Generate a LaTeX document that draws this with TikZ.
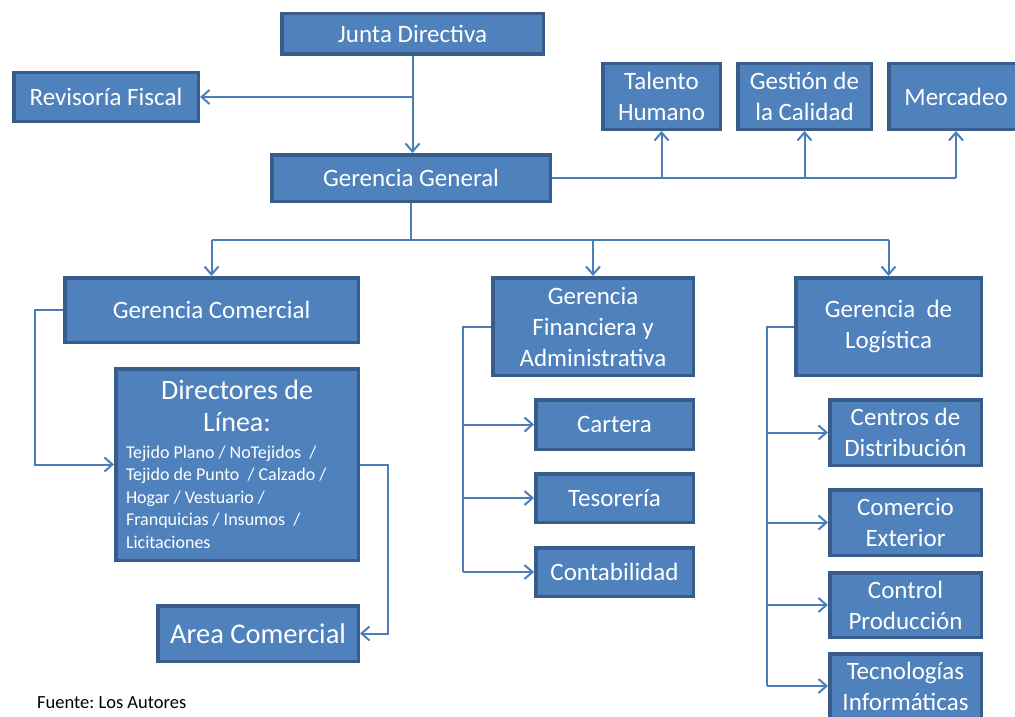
\documentclass[tikz,border=0pt]{standalone}
\usepackage{fontspec}
\setmainfont{Carlito}
\frenchspacing
\usetikzlibrary{arrows.meta}
\definecolor{boxfill}{HTML}{4F81BD}
\definecolor{boxline}{HTML}{385D8A}
\definecolor{linkline}{HTML}{4A7EBB}

% \unitbox[options]{name}{left}{top}{right}{bottom}{text}: a unit box given by its outer edges
\newcommand{\unitbox}[7][]{%
  \node[orgbox,#1,
        minimum width={(#5-#3-3.5)*1pt},
        minimum height={(#6-#4-3.5)*1pt}]
    (#2) at ({(#3+#5)/2},{(#4+#6)/2}) {#7};}

% one left-aligned line of the list of product lines
\newcommand{\listline}[1]{\hbox to 222pt{#1\hss}}

\begin{document}
\begin{tikzpicture}[x=1pt,y=-1pt,
  orgbox/.style={draw=boxline, line width=3.5pt, fill=boxfill, text=white,
                 align=flush center, inner sep=2pt, font=\fontsize{25}{31}\selectfont},
  link/.style={draw=linkline, line width=2pt},
  arrowlink/.style={link, -{Straight Barb[length=8pt,width=14pt]}}]

\useasboundingbox (0,0) rectangle (1015,717);

% top level
\unitbox{jd}{280}{12}{545}{56}{Junta Directiva}
\unitbox{rf}{12}{71}{200}{123}{Revisoría Fiscal}
\unitbox{gg}{270}{153}{552}{203}{Gerencia General}

% staff units
\unitbox{th}{601}{62}{722}{131}{Talento\\Humano}
\unitbox{gq}{736}{62}{873}{131}{Gestión de\\la Calidad}
\unitbox{me}{887}{62}{1025}{131}{Mercadeo}

% commercial branch
\unitbox{gc}{63}{276}{360}{344}{Gerencia Comercial}
\unitbox{dl}{114}{367}{360}{562}{%
  \vbox{%
    \fontsize{28}{32}\selectfont
    \hbox to 222pt{\hss Directores de\hss}
    \hbox to 222pt{\hss Línea:\hss}
    \fontsize{18}{22.5}\selectfont
    \baselineskip=26.5pt
    \listline{Tejido Plano / NoTejidos~ /}
    \baselineskip=22.5pt
    \listline{Tejido de Punto~ / Calzado /}
    \listline{Hogar / Vestuario /}
    \listline{Franquicias / Insumos~ /}
    \listline{Licitaciones}}}
\unitbox[font=\fontsize{28.5}{32}\selectfont]{ac}{156}{604}{360}{663}{Area Comercial}

% financial branch
\unitbox{gf}{491}{276}{695}{377}{Gerencia\\Financiera y\\Administrativa}
\unitbox{ca}{534}{398}{695}{451}{Cartera}
\unitbox{te}{534}{472}{695}{524}{Tesorería}
\unitbox{co}{534}{546}{695}{598}{Contabilidad}

% logistics branch
\unitbox{gl}{794}{276}{983}{377}{Gerencia~ de\\Logística}
\unitbox{cd}{828}{398}{983}{467}{Centros de\\Distribución}
\unitbox{ce}{828}{488}{983}{557}{Comercio\\Exterior}
\unitbox{cp}{828}{571}{983}{639}{Control\\Producción}
\unitbox{ti}{828}{652}{983}{720}{Tecnologías\\Informáticas}

% source note
\node[font=\fontsize{18.5}{22}\selectfont, anchor=base west, inner sep=0pt]
  (src) at (37,708) {Fuente: Los Autores};

% board to general management and fiscal review
\draw[arrowlink] (jd.south) -- (jd.south |- gg.north);
\draw[arrowlink] (jd.south |- rf.east) -- (rf.east);

% general management to staff units
\draw[link] (gg.east) -- (me.south |- gg.east);
\draw[arrowlink] (th.south |- gg.east) -- (th.south);
\draw[arrowlink] (gq.south |- gg.east) -- (gq.south);
\draw[arrowlink] (me.south |- gg.east) -- (me.south);

% general management to the three managements
\coordinate (gbus) at (411,240);
\draw[link] (gg.south) -- (gg.south |- gbus);
\draw[link] (gc.north |- gbus) -- (gl.north |- gbus);
\draw[arrowlink] (gc.north |- gbus) -- (gc.north);
\draw[arrowlink] (gf.north |- gbus) -- (gf.north);
\draw[arrowlink] (gl.north |- gbus) -- (gl.north);

% commercial chain
\draw[arrowlink] (gc.west) -- ++(-28,0) |- (dl.west);
\draw[arrowlink] (dl.east) -- ++(28,0) |- (ac.east);

% financial units
\draw[link] (gf.west) -- ++(-28,0) coordinate (fbus) -- (fbus |- co.west);
\draw[arrowlink] (fbus |- ca.west) -- (ca.west);
\draw[arrowlink] (fbus |- te.west) -- (te.west);
\draw[arrowlink] (fbus |- co.west) -- (co.west);

% logistics units
\draw[link] (gl.west) -- ++(-27,0) coordinate (lbus) -- (lbus |- ti.west);
\draw[arrowlink] (lbus |- cd.west) -- (cd.west);
\draw[arrowlink] (lbus |- ce.west) -- (ce.west);
\draw[arrowlink] (lbus |- cp.west) -- (cp.west);
\draw[arrowlink] (lbus |- ti.west) -- (ti.west);
\end{tikzpicture}
\end{document}
